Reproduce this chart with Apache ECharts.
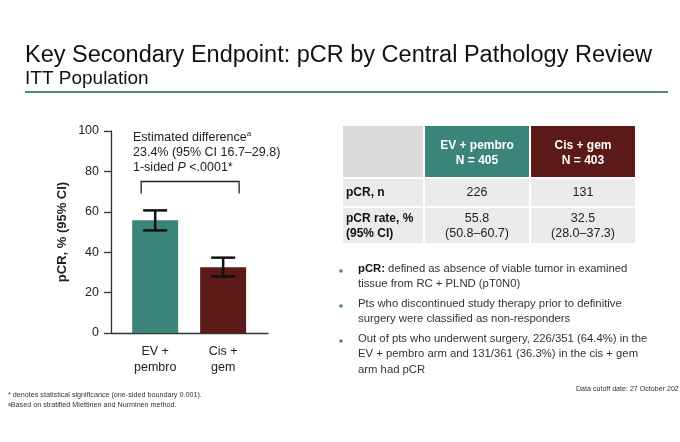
<!DOCTYPE html>
<html>
<head>
<meta charset="utf-8">
<script src="https://cdn.jsdelivr.net/npm/echarts@6/dist/echarts.min.js"></script>
<style>
html, body { margin: 0; padding: 0; background: #fff; }
#chart { width: 680px; height: 442px; }
</style>
</head>
<body>
<div id="chart"></div>
<script>
// data
var categories = ['EV +\npembro', 'Cis +\ngem'];
var pcrRate = [55.8, 32.5];
var ciLow = [50.8, 28.0];
var ciHigh = [60.7, 37.3];
var bracketLevels = [75, 69];   // top of bracket, end of its legs
var armNames = ['EV + pembro', 'Cis + gem'];
var armN = [405, 403];
var pcrN = [226, 131];

var FONT = "'Liberation Sans', Arial, sans-serif";
var barColors = ['#3b8479', '#5b1a17'];
var teal = '#4a8b87';

var chart = echarts.init(document.getElementById('chart'), null, { renderer: 'canvas' });

// ---- table + text blocks (graphic) ----
var graphics = [];

graphics.push({
    type: 'text', left: 25, top: 44,
    style: { text: 'Key Secondary Endpoint: pCR by Central Pathology Review', font: '23.5px ' + FONT, fill: '#111' }
});
graphics.push({
    type: 'text', left: 25, top: 69,
    style: { text: 'ITT Population', font: '19px ' + FONT, fill: '#111' }
});
graphics.push({
    type: 'line', shape: { x1: 25, y1: 92, x2: 668, y2: 92 },
    style: { stroke: teal, lineWidth: 2 }
});

// annotation above bars
graphics.push({
    type: 'text', left: 133, top: 130,
    style: {
        text: '{t|Estimated difference}{sup|a}\n{t|23.4% (95% CI 16.7–29.8)}\n{t|1-sided }{i|P}{t| <.0001*}',
        rich: {
            t: { font: '12.5px ' + FONT, fill: '#222', lineHeight: 15 },
            i: { font: 'italic 12.5px ' + FONT, fill: '#222', lineHeight: 15 },
            sup: { font: '8px ' + FONT, fill: '#222', verticalAlign: 'top', lineHeight: 15, padding: [0, 0, 6, 0] }
        }
    }
});

// table
var colX = [[343, 423], [425, 529], [531, 635]];
var rowY = [[126, 177], [179, 206], [208, 243]];
function cell(c, r, color) {
    graphics.push({
        type: 'rect',
        shape: { x: colX[c][0], y: rowY[r][0], width: colX[c][1] - colX[c][0], height: rowY[r][1] - rowY[r][0] },
        style: { fill: color }
    });
}
cell(0, 0, '#d9d9d9');
cell(1, 0, barColors[0]);
cell(2, 0, barColors[1]);
for (var r = 1; r < 3; r++) for (var c = 0; c < 3; c++) cell(c, r, '#ebebeb');

function ctext(x, y, txt, font, color, align) {
    graphics.push({
        type: 'text', x: x, y: y,
        style: { text: txt, font: font, fill: color, align: align || 'center', verticalAlign: 'middle', lineHeight: 15 }
    });
}
for (var k = 0; k < 2; k++) {
    var cx = (colX[k + 1][0] + colX[k + 1][1]) / 2;
    ctext(cx, 153, armNames[k] + '\nN = ' + armN[k], 'bold 12px ' + FONT, '#fff');
    ctext(cx, 193, String(pcrN[k]), '12.5px ' + FONT, '#222');
    ctext(cx, 226, pcrRate[k].toFixed(1) + '\n(' + ciLow[k].toFixed(1) + '–' + ciHigh[k].toFixed(1) + ')', '12.5px ' + FONT, '#222');
}
ctext(346, 193, 'pCR, n', 'bold 12px ' + FONT, '#111', 'left');
ctext(346, 226, 'pCR rate, %\n(95% CI)', 'bold 12px ' + FONT, '#111', 'left');

// bullets
var bullets = [
    { y: 263, text: '{b|pCR:}{t| defined as absence of viable tumor in examined}\n{t|tissue from RC + PLND (pT0N0)}' },
    { y: 298, text: '{t|Pts who discontinued study therapy prior to definitive}\n{t|surgery were classified as non-responders}' },
    { y: 333, text: '{t|Out of pts who underwent surgery, 226/351 (64.4%) in the}\n{t|EV + pembro arm and 131/361 (36.3%) in the cis + gem}\n{t|arm had pCR}' }
];
bullets.forEach(function (b) {
    graphics.push({ type: 'circle', shape: { cx: 341, cy: b.y + 8, r: 1.8 }, style: { fill: teal } });
    graphics.push({
        type: 'text', left: 358, top: b.y,
        style: {
            text: b.text,
            rich: {
                t: { font: '11.3px ' + FONT, fill: '#333', lineHeight: 15.5 },
                b: { font: 'bold 11.3px ' + FONT, fill: '#111', lineHeight: 15.5 }
            }
        }
    });
});

// footnotes
graphics.push({
    type: 'text', left: 8, top: 392,
    style: { text: '* denotes statistical significance (one-sided boundary 0.001).', font: '7.2px ' + FONT, fill: '#333' }
});
graphics.push({
    type: 'text', left: 8, top: 402,
    style: {
        text: '{s|a}{t|Based on stratified Miettinen and Nurminen method.}',
        rich: {
            t: { font: '7.2px ' + FONT, fill: '#333' },
            s: { font: '5px ' + FONT, fill: '#333', verticalAlign: 'top' }
        }
    }
});
graphics.push({
    type: 'text', left: 576, top: 386,
    style: { text: 'Data cutoff date: 27 October 202', font: '7.1px ' + FONT, fill: '#333' }
});

// ---- chart ----
var axisColor = '#333';
var option = {
    animation: false,
    textStyle: { fontFamily: FONT },
    grid: { left: 111, right: 412, top: 131, bottom: 109 },
    xAxis: {
        type: 'value',
        min: 0.35,
        max: 2.66,
        axisLine: { show: true, onZero: false, lineStyle: { color: axisColor, width: 1.3 } },
        axisTick: { show: false },
        splitLine: { show: false },
        axisLabel: {
            customValues: [1, 2],
            formatter: function (v) { return categories[Math.round(v) - 1]; },
            fontSize: 12.5, color: '#222', lineHeight: 16, margin: 11
        }
    },
    yAxis: {
        type: 'value',
        min: 0, max: 100, interval: 20,
        name: 'pCR, % (95% CI)',
        nameLocation: 'middle',
        nameGap: 42,
        nameTextStyle: { fontWeight: 'bold', fontSize: 13, color: '#222' },
        axisLine: { show: true, lineStyle: { color: axisColor, width: 1.3 } },
        axisTick: { show: true, length: 7, lineStyle: { color: axisColor, width: 1.3 } },
        axisLabel: { fontSize: 12.5, color: '#222', margin: 12 },
        splitLine: { show: false }
    },
    series: [
        {
            type: 'bar',
            barWidth: 46,
            data: pcrRate.map(function (v, i) {
                return { value: [i + 1, v], itemStyle: { color: barColors[i] } };
            })
        },
        {
            type: 'custom',
            encode: { x: 0, y: [1, 2] },
            data: pcrRate.map(function (v, i) { return [i + 1, ciLow[i], ciHigh[i]]; }),
            renderItem: function (params, api) {
                var lo = api.coord([api.value(0), api.value(1)]);
                var hi = api.coord([api.value(0), api.value(2)]);
                var hw = 12;
                var st = { stroke: '#111', lineWidth: 2.5 };
                return {
                    type: 'group',
                    children: [
                        { type: 'line', shape: { x1: lo[0], y1: lo[1], x2: hi[0], y2: hi[1] }, style: st },
                        { type: 'line', shape: { x1: lo[0] - hw, y1: lo[1], x2: lo[0] + hw, y2: lo[1] }, style: st },
                        { type: 'line', shape: { x1: hi[0] - hw, y1: hi[1], x2: hi[0] + hw, y2: hi[1] }, style: st }
                    ]
                };
            },
            z: 5
        },
        {
            type: 'custom',
            encode: { x: [0, 1], y: [2, 3] },
            data: [[1, 2, bracketLevels[0], bracketLevels[1]]],
            renderItem: function (params, api) {
                var a = api.coord([api.value(0), api.value(2)]);
                var b = api.coord([api.value(1), api.value(3)]);
                var xl = a[0] - 14, xr = b[0] + 16;
                return {
                    type: 'polyline',
                    shape: { points: [[xl, b[1]], [xl, a[1]], [xr, a[1]], [xr, b[1]]] },
                    style: { stroke: '#222', lineWidth: 1.3, fill: null }
                };
            }
        }
    ],
    graphic: graphics
};

chart.setOption(option);
</script>
</body>
</html>
